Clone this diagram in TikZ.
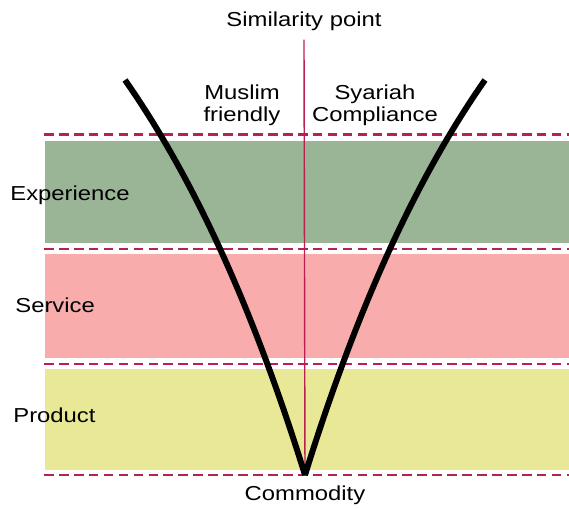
\documentclass[tikz,border=0pt]{standalone}
\usepackage{fontspec}
\setmainfont{Liberation Sans}[FakeStretch=1.18]
\usetikzlibrary{positioning}
\definecolor{bandgreen}{HTML}{9AB496}
\definecolor{bandpink}{HTML}{F8ACAC}
\definecolor{bandyellow}{HTML}{E8E896}
\definecolor{crimson}{HTML}{B8204F}

\begin{document}
\begin{tikzpicture}[
    x=0.02cm, y=-0.02cm,
    divider/.style={crimson, line width=1.7pt, dash pattern=on 5.5pt off 3pt},
    axis/.style={crimson, line width=0.8pt},
    curve/.style={line width=3.4pt, black},
    lbl/.style={font=\fontsize{11.5}{12.5}\selectfont, inner sep=0pt, align=center},
    level/.style={lbl, anchor=west},
  ]
  \useasboundingbox (0,0) rectangle (569,509);

  % bands
  \fill[bandgreen] (45,141) rectangle (569,243);
  \fill[bandpink] (45,254) rectangle (569,358);
  \fill[bandyellow] (45,369) rectangle (569,470);

  % dashed dividers
  \foreach \y in {135,249,364,475}
    \draw[divider] (44,\y) -- (569,\y);

  \node[lbl] (simpt) at (304,21) {Similarity point};
  \node[lbl] (commodity) at (305,495) {Commodity};
  \coordinate (base) at (305,475);
  \coordinate (lefttop) at (125,80);
  \coordinate (righttop) at (485,80);

  \draw[axis] ([yshift=-5pt]simpt.south) -- (base);
  \draw[curve] (base) .. controls (254,311) and (195,180) .. (lefttop);
  \draw[curve] (base) .. controls (356,311) and (415,180) .. (righttop);

  \node[lbl] (muslim) at (242,105) {Muslim\\friendly};
  \node[lbl] (syariah) at (375,105) {Syariah\\Compliance};

  \node[level] (experience) at (10,195) {Experience};
  \node[level] (service) at (15,305) {Service};
  \node[level] (product) at (13,415) {Product};
\end{tikzpicture}
\end{document}
